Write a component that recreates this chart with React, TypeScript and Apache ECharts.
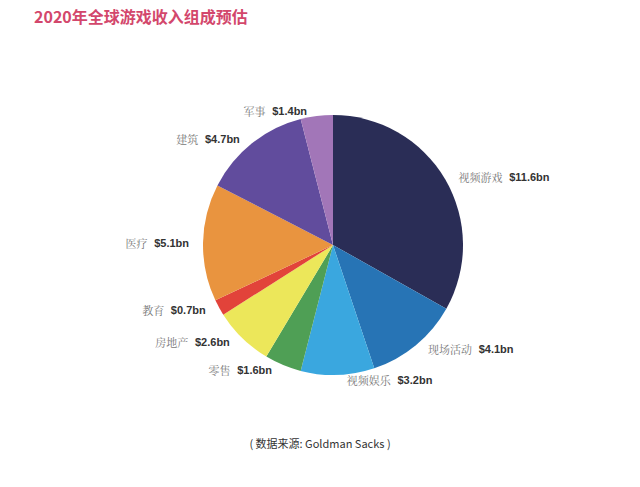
import React, { useEffect, useRef } from 'react';
import * as echarts from 'echarts';

const categories = ['视频游戏', '现场活动', '视频娱乐', '零售', '房地产', '教育', '医疗', '建筑', '军事'];
const values = [11.6, 4.1, 3.2, 1.6, 2.6, 0.7, 5.1, 4.7, 1.4];
const colors = ['#2a2d56', '#2774b5', '#3aa7df', '#4f9f55', '#ece75a', '#e2433a', '#e9943f', '#614c9d', '#a276b8'];

const App: React.FC = () => {
  const chartRef = useRef<HTMLDivElement>(null);

  useEffect(() => {
    const chart = echarts.init(chartRef.current!, undefined, { renderer: 'svg' });
    const option: echarts.EChartsOption = {
      animation: false,
      backgroundColor: '#ffffff',
      title: [
        {
          text: '2020年全球游戏收入组成预估',
          left: 29,
          top: 3,
          textStyle: {
            color: '#d3476c',
            fontSize: 16,
            fontWeight: 'bold',
            fontFamily: '"Noto Sans CJK SC", sans-serif',
          },
        },
        {
          text: '( 数据来源: Goldman Sacks )',
          left: 'center',
          top: 432,
          textStyle: {
            color: '#333',
            fontSize: 11,
            fontWeight: 'normal',
            fontFamily: '"Noto Sans CJK SC", sans-serif',
          },
        },
      ],
      series: [
        {
          type: 'pie',
          center: [333, 245],
          radius: 130,
          startAngle: 90,
          clockwise: true,
          color: colors,
          label: {
            show: true,
            position: 'outside',
            formatter: (p: any) => `{n|${p.name}}  {v|$${p.value}bn}`,
            rich: {
              n: { color: '#777', fontSize: 11, fontFamily: '"Noto Serif CJK SC", serif' },
              v: { color: '#333', fontSize: 11, fontWeight: 'bold', fontFamily: 'Arial, "Liberation Sans", sans-serif' },
            },
          },
          labelLine: { show: false, length: 5, length2: 4 },
          itemStyle: { borderWidth: 0 },
          data: categories.map((name, i) => ({ name, value: values[i] })),
        },
      ],
    };
    chart.setOption(option);
    return () => {
      chart.dispose();
    };
  }, []);

  return <div ref={chartRef} style={{ position: 'fixed', left: 0, top: 0, width: 640, height: 487 }} />;
};

export default App;
